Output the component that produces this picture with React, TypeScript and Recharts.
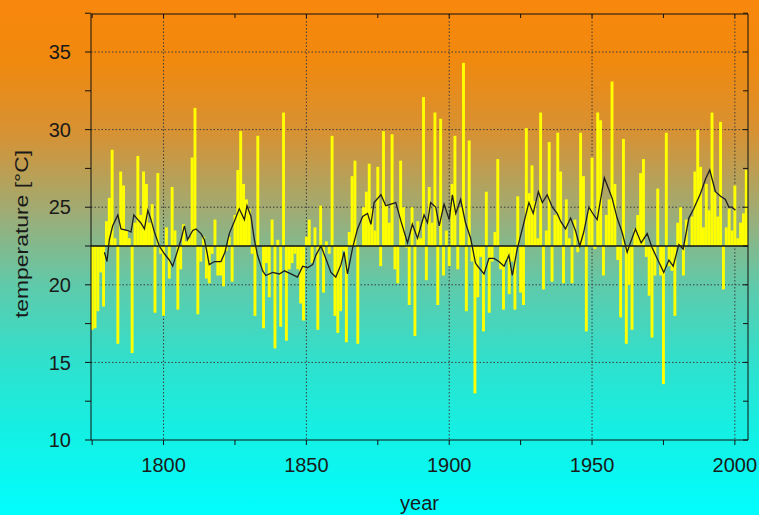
import React from 'react';
import { ComposedChart, Bar, Line, XAxis, YAxis, CartesianGrid, ReferenceLine, Label } from 'recharts';

const startYear = 1775;
const baseline = 22.5;

// yearly values 1775..2004
const temperatures = [
  17.1, 17.2, 18.3, 20.8, 18.6, 24.1, 25.6, 28.7, 23.0, 16.2,
  27.3, 26.4, 23.5, 23.0, 15.6, 24.0, 28.3, 24.5, 27.3, 26.5,
  24.0, 25.2, 18.2, 27.2, 22.0, 18.0, 23.7, 20.4, 26.3, 23.5,
  18.4, 21.0, 23.9, 22.8, 23.0, 28.2, 31.4, 18.1, 21.5, 23.1,
  20.4, 20.1, 22.0, 24.2, 20.6, 20.6, 19.9, 22.2, 23.1, 20.2,
  24.5, 27.4, 29.9, 26.5, 25.5, 24.9, 22.0, 18.0, 29.6, 22.5,
  17.2, 21.4, 19.2, 24.2, 15.9, 22.9, 17.3, 31.1, 16.4, 21.0,
  21.4, 22.0, 21.0, 18.8, 17.7, 23.1, 24.2, 21.4, 23.7, 17.1,
  25.1, 19.5, 22.8, 22.0, 29.6, 18.0, 16.9, 18.3, 22.2, 16.3,
  23.4, 27.0, 28.0, 16.2, 22.5, 25.0, 26.0, 27.8, 24.9, 23.5,
  27.6, 21.2, 29.9, 25.2, 24.0, 29.7, 21.0, 20.1, 28.0, 25.0,
  22.4, 18.7, 25.0, 16.7, 24.1, 23.0, 32.1, 20.3, 26.3, 24.0,
  31.1, 18.7, 30.7, 20.6, 23.5, 21.2, 26.5, 29.6, 21.0, 25.0,
  34.3, 18.3, 29.3, 21.5, 13.0, 19.2, 21.8, 17.0, 26.0, 18.2,
  21.5, 23.4, 28.1, 21.0, 18.4, 21.6, 19.4, 21.5, 18.4, 25.7,
  19.5, 18.7, 30.1, 25.9, 27.7, 25.4, 23.0, 31.1, 19.7, 23.5,
  29.2, 20.2, 24.5, 29.8, 27.3, 20.1, 25.5, 23.0, 20.1, 24.2,
  22.1, 29.8, 27.0, 17.0, 25.0, 28.2, 22.3, 31.1, 30.6, 20.6,
  24.5, 25.5, 33.1, 26.5, 21.6, 17.9, 29.4, 16.2, 20.0, 17.1,
  23.6, 24.5, 27.2, 28.1, 21.8, 19.3, 16.6, 20.6, 26.2, 20.6,
  13.6, 29.8, 21.2, 20.9, 18.0, 24.0, 25.0, 20.6, 24.2, 22.5,
  24.4, 27.3, 30.0, 27.6, 23.7, 26.5, 24.8, 31.1, 26.0, 24.4,
  30.5, 19.7, 23.7, 24.9, 23.5, 26.4, 23.0, 24.0, 24.6, 27.4,
];

// running mean line
const trendYears = [
  1779.3, 1780.2, 1781.0, 1782.2, 1784.0, 1785.1, 1787.5, 1788.6, 1789.6, 1791.0,
  1792.0, 1793.3, 1794.5, 1795.6, 1796.8, 1798.5, 1800.3, 1802.0, 1803.2, 1804.4,
  1806.1, 1807.3, 1808.4, 1810.2, 1811.4, 1813.1, 1814.3, 1815.2, 1816.0, 1817.8,
  1820.1, 1821.5, 1823.0, 1824.8, 1826.5, 1828.3, 1829.2, 1830.6, 1831.8, 1832.9,
  1834.7, 1835.8, 1838.2, 1840.5, 1842.3, 1844.6, 1846.9, 1848.7, 1850.4, 1852.2,
  1853.3, 1855.1, 1856.8, 1858.6, 1860.3, 1862.1, 1863.2, 1864.4, 1866.2, 1867.9,
  1869.7, 1871.4, 1872.6, 1873.7, 1876.1, 1877.8, 1879.6, 1881.3, 1883.1, 1885.4,
  1887.1, 1888.9, 1891.2, 1892.4, 1893.5, 1895.3, 1896.5, 1898.2, 1900.0, 1901.1,
  1902.3, 1904.0, 1905.7, 1907.5, 1909.2, 1910.4, 1912.2, 1913.9, 1915.7, 1917.4,
  1919.2, 1920.9, 1922.1, 1923.8, 1925.6, 1927.9, 1929.4, 1931.2, 1932.6, 1934.3,
  1936.1, 1937.8, 1939.0, 1940.7, 1942.5, 1944.2, 1945.7, 1947.1, 1948.9, 1950.6,
  1951.8, 1954.3, 1957.0, 1958.8, 1960.5, 1962.3, 1963.4, 1965.2, 1967.2, 1969.3,
  1971.0, 1973.3, 1975.1, 1976.9, 1978.4, 1980.4, 1981.9, 1983.9, 1985.6, 1988.0,
  1989.7, 1991.2, 1993.2, 1995.0, 1996.7, 1997.9, 1999.0, 2000.2,
];
const trendValues = [
  22.1, 21.5, 22.9, 23.8, 24.5, 23.6, 23.5, 23.4, 24.5, 24.2,
  24.0, 23.6, 24.8, 24.2, 23.4, 22.5, 22.0, 21.6, 21.2, 21.9,
  22.9, 23.8, 22.9, 23.5, 23.6, 23.3, 22.9, 22.1, 21.3, 21.5,
  21.5, 22.1, 23.3, 24.1, 24.9, 24.2, 25.1, 24.4, 22.9, 21.9,
  20.9, 20.6, 20.8, 20.7, 20.9, 20.7, 20.5, 21.2, 21.1, 21.3,
  21.9, 22.5, 21.7, 20.8, 20.5, 21.3, 22.1, 20.7, 22.4, 23.6,
  24.4, 24.6, 23.9, 25.3, 25.8, 25.1, 25.2, 25.3, 24.1, 22.7,
  23.9, 23.0, 24.5, 24.0, 25.3, 25.0, 23.8, 25.2, 24.2, 25.8,
  24.6, 25.5, 24.0, 23.0, 21.4, 21.1, 20.7, 21.7, 21.7, 21.5,
  21.2, 21.9, 20.6, 22.3, 23.6, 25.3, 24.6, 26.0, 25.3, 25.8,
  25.0, 24.6, 24.1, 23.6, 24.3, 23.5, 22.5, 23.4, 25.0, 24.5,
  24.2, 26.9, 25.6, 24.3, 23.4, 22.1, 22.7, 23.6, 22.7, 23.3,
  22.4, 21.5, 20.8, 21.6, 21.2, 22.6, 22.3, 24.3, 24.9, 25.9,
  26.8, 27.4, 26.0, 25.7, 25.5, 25.0, 25.0, 24.8,
];

const xTicks = [1775, 1800, 1825, 1850, 1875, 1900, 1925, 1950, 1975, 2000];
const xLabelTicks = [1800, 1850, 1900, 1950, 2000];
const yTicks = [10, 12.5, 15, 17.5, 20, 22.5, 25, 27.5, 30, 32.5, 35, 37.5];
const yLabelTicks = [10, 15, 20, 25, 30, 35];

const xDomain: [number, number] = [1774.6, 2004.6];
const yDomain: [number, number] = [10, 37.45];

const barData = temperatures.map((t, i) => ({
  year: startYear + i,
  range: [Math.min(t, baseline), Math.max(t, baseline)],
}));
const trendData = trendYears.map((y, i) => ({ year: y, trend: trendValues[i] }));

const FONT = '"Liberation Sans", Arial, sans-serif';
const TEXT = '#1a1a1a';
const tickStyle = { fill: TEXT, fontSize: 20, fontFamily: FONT };

const BarShape = (props: any) => {
  const { x, y, width, height } = props;
  if (x == null || y == null || !height) return null;
  const w = 2.9;
  const cx = x + width / 2;
  return <rect x={cx - w / 2} y={y} width={w} height={Math.abs(height)} fill="#ffff00" />;
};

const YLabel = () => (
  <text
    x={22}
    y={234}
    transform="rotate(-90, 22, 234)"
    textAnchor="middle"
    dominantBaseline="central"
    textLength={168}
    lengthAdjust="spacingAndGlyphs"
    fill={TEXT}
    fontSize={18}
    fontFamily={FONT}
  >
    temperature [°C]
  </text>
);

export default function App() {
  return (
    <div
      style={{
        position: 'absolute',
        left: 0,
        top: 0,
        width: 759,
        height: 515,
        overflow: 'hidden',
        background:
          'linear-gradient(to bottom, #f8880c 0%, #f0890f 12%, #d69234 26%, #9cad78 42%, #5dcbac 56%, #30e0cc 70%, #14f0e4 84%, #00fefe 100%)',
      }}
    >
      <ComposedChart
        width={759}
        height={515}
        data={barData}
        margin={{ top: 14, right: 11, bottom: 0, left: 0 }}
        barCategoryGap={0}
      >
        <XAxis
          dataKey="year"
          type="number"
          domain={xDomain}
          allowDataOverflow
          ticks={xTicks}
          interval={0}
          tickFormatter={(v: number) => (xLabelTicks.includes(v) ? String(v) : '')}
          height={75}
          tickSize={5}
          tickMargin={13}
          stroke="#111"
          tick={tickStyle}
        >
          <Label value="year" position="center" dy={25} style={{ fill: TEXT, fontSize: 20, fontFamily: FONT }} />
        </XAxis>
        <XAxis
          xAxisId="top"
          orientation="top"
          type="number"
          dataKey="year"
          domain={xDomain}
          allowDataOverflow
          ticks={xTicks}
          interval={0}
          tickFormatter={() => ''}
          height={1}
          mirror
          tickSize={4}
          stroke="#111"
        />
        <YAxis
          type="number"
          domain={yDomain}
          allowDataOverflow
          ticks={yTicks}
          interval={0}
          tickFormatter={(v: number) => (yLabelTicks.includes(v) ? String(v) : '')}
          width={91}
          tickSize={6}
          tickMargin={14}
          stroke="#111"
          tick={tickStyle}
        >
          <Label content={YLabel} />
        </YAxis>
        <YAxis
          yAxisId="right"
          orientation="right"
          type="number"
          domain={yDomain}
          allowDataOverflow
          ticks={yTicks}
          interval={0}
          tickFormatter={() => ''}
          width={1}
          mirror
          tickSize={5}
          stroke="#111"
        />
        <Bar dataKey="range" shape={BarShape} isAnimationActive={false} />
        <CartesianGrid
          horizontalValues={[15, 20, 25, 30, 35]}
          verticalValues={[1800, 1850, 1900, 1950, 2000]}
          stroke="#3c3c3c"
          strokeDasharray="1.5 2"
        />
        <ReferenceLine y={baseline} stroke="#111" strokeWidth={1.5} />
        <Line
          data={trendData}
          dataKey="trend"
          type="linear"
          stroke="#1e1e1e"
          strokeWidth={1.3}
          dot={false}
          isAnimationActive={false}
        />
        <Line
          data={trendData}
          dataKey="trend"
          xAxisId="top"
          yAxisId="right"
          stroke="none"
          dot={false}
          legendType="none"
          isAnimationActive={false}
        />
      </ComposedChart>
    </div>
  );
}
